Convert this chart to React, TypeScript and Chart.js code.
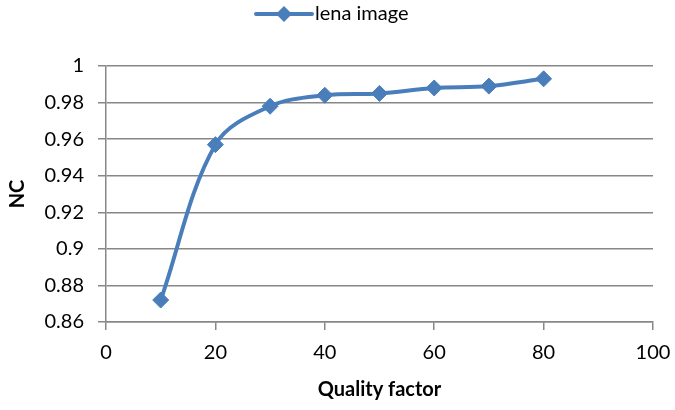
import React, { useEffect, useRef } from "react";
import { Chart, registerables } from "chart.js";

Chart.register(...registerables);

const qualityFactors = [10, 20, 30, 40, 50, 60, 70, 80];
const ncValues = [0.872, 0.957, 0.978, 0.984, 0.985, 0.988, 0.989, 0.993];
const seriesLabel = "lena image";
const xTitle = "Quality factor";
const yTitle = "NC";

const FONT = "Lato, 'Open Sans', sans-serif";
const BLUE = "#4A7EBB";
const GRID = "#878787";

const legendPlugin = {
  id: "customLegend",
  afterDraw(chart: any) {
    const ctx = chart.ctx;
    ctx.save();
    const cy = 14;
    const x0 = 256;
    const x1 = 312;
    ctx.strokeStyle = BLUE;
    ctx.lineWidth = 4;
    ctx.lineCap = "round";
    ctx.beginPath();
    ctx.moveTo(x0, cy);
    ctx.lineTo(x1, cy);
    ctx.stroke();
    const mx = (x0 + x1) / 2;
    const r = 8;
    ctx.fillStyle = BLUE;
    ctx.beginPath();
    ctx.moveTo(mx, cy - r);
    ctx.lineTo(mx + r, cy);
    ctx.lineTo(mx, cy + r);
    ctx.lineTo(mx - r, cy);
    ctx.closePath();
    ctx.fill();
    ctx.fillStyle = "#000";
    ctx.font = `20px ${FONT}`;
    ctx.textBaseline = "middle";
    ctx.textAlign = "left";
    ctx.fillText(chart.data.datasets[0].label, x1 + 3, cy);
    ctx.restore();
  },
};

export default function App() {
  const ref = useRef<HTMLCanvasElement>(null);
  useEffect(() => {
    document.body.style.margin = "0";
    const chart = new Chart(ref.current!, {
      type: "line",
      data: {
        datasets: [
          {
            label: seriesLabel,
            data: qualityFactors.map((x, i) => ({ x, y: ncValues[i] })),
            borderColor: BLUE,
            backgroundColor: BLUE,
            borderWidth: 4,
            tension: 0.35,
            pointStyle: "rectRot",
            pointRadius: 8,
            pointBorderWidth: 1,
            pointBackgroundColor: BLUE,
            pointBorderColor: BLUE,
          },
        ],
      },
      options: {
        animation: false,
        responsive: false,
        layout: { padding: { top: 66, right: 22, left: 0, bottom: 0 } },
        plugins: { legend: { display: false }, tooltip: { enabled: false } },
        scales: {
          x: {
            type: "linear",
            min: 0,
            max: 100,
            afterFit: (s: any) => {
              s.height = 88;
              s.paddingRight = 0;
              s.paddingLeft = 0;
            },
            ticks: {
              stepSize: 20,
              color: "#000",
              font: { family: FONT, size: 20 },
              padding: 11,
              maxRotation: 0,
            },
            grid: {
              drawOnChartArea: false,
              drawTicks: true,
              tickLength: 8,
              color: GRID,
              lineWidth: 1.5,
            },
            border: { color: GRID, width: 1.5 },
            title: {
              display: true,
              text: xTitle,
              color: "#000",
              font: { family: FONT, size: 20, weight: "bold" },
              padding: { top: 8, bottom: 8 },
            },
          },
          y: {
            min: 0.86,
            max: 1,
            afterFit: (s: any) => {
              s.width = 106;
              s.paddingTop = 0;
              s.paddingBottom = 0;
            },
            ticks: {
              stepSize: 0.02,
              color: "#000",
              font: { family: FONT, size: 20 },
              padding: 14,
              callback: (v: any) => String(Number(Number(v).toFixed(2))),
            },
            grid: {
              drawTicks: true,
              tickLength: 8,
              color: GRID,
              lineWidth: 1.5,
            },
            border: { color: GRID, width: 1.5 },
            title: {
              display: true,
              text: yTitle,
              color: "#000",
              font: { family: FONT, size: 20, weight: "bold" },
              padding: { top: 6, bottom: 6 },
            },
          },
        },
      },
      plugins: [legendPlugin],
    } as any);
    return () => chart.destroy();
  }, []);
  return (
    <div style={{ width: 675, height: 410 }}>
      <canvas ref={ref} width={675} height={410} />
    </div>
  );
}
